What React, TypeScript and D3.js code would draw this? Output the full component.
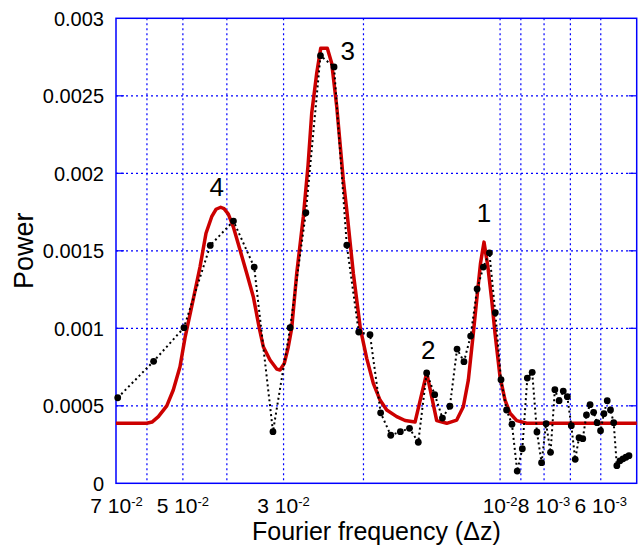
import React from 'react';
import * as d3 from 'd3';

// Observed data: periods (1 / Fourier frequency) and measured power
const periods = [
  14.37, 17.24, 20.11, 22.98, 25.85, 28.72, 31.59, 34.46, 37.33, 40.2,
  43.07, 45.94, 48.81, 51.68, 54.55, 57.42, 60.29, 63.16, 66.03, 68.9,
  71.77, 74.64, 77.51, 80.38, 83.25, 86.12, 88.99, 91.86, 94.73, 97.6,
  100.47, 103.34, 106.21, 109.08, 111.95, 114.82, 117.69, 120.56, 123.43, 126.3,
  129.17, 132.04, 134.91, 137.78, 140.65, 143.52, 146.39, 149.26, 152.13, 155.0,
  157.87, 160.74, 163.61, 166.48, 169.35, 172.22, 175.09, 177.96, 180.83, 183.7,
  186.57, 189.44, 192.31,
];
const power = [
  0.000552, 0.000787, 0.001004, 0.001535, 0.001692, 0.001395, 0.000333, 0.001004, 0.001746, 0.002759,
  0.002686, 0.001537, 0.000976, 0.000959, 0.000455, 0.00031, 0.000333, 0.000355, 0.000265, 0.000712,
  0.000572, 0.000421, 0.000497, 0.000866, 0.000785, 0.00095, 0.001254, 0.001395, 0.001486, 0.001101,
  0.000668, 0.000473, 0.000381, 0.000079, 0.000223, 0.000679, 0.000716, 0.000331, 0.000133, 0.000385,
  0.0002, 0.000604, 0.000533, 0.000595, 0.000559, 0.000372, 0.000155, 0.000294, 0.000288, 0.000441,
  0.000507, 0.000458, 0.000391, 0.000339, 0.000449, 0.000533, 0.000473, 0.000391, 0.000114, 0.000145,
  0.000158, 0.000168, 0.000178,
];

// Fitted model curve (red)
const fitPeriods = [
  14.245, 16.645, 17.1, 17.66, 18.43, 19.05, 19.71, 20.22, 21.09, 21.82,
  22.49, 23.15, 23.66, 24.23, 24.64, 25.19, 25.83, 26.73, 27.65, 28.59,
  29.48, 30.08, 31.12, 32.2, 32.74, 33.46, 34.15, 34.74, 35.64, 36.85,
  37.74, 38.45, 39.44, 40.25, 41.62, 42.56, 43.66, 45.14, 45.93, 47.49,
  49.21, 50.83, 52.56, 54.38, 56.26, 59.19, 61.74, 64.95, 68.91, 72.5,
  76.28, 80.25, 82.98, 85.12, 87.3, 88.82, 90.55, 92.17, 93.96, 95.84,
  97.46, 99.96, 102.54, 105.18, 108.82, 114.48, 200.07,
];
const fitPower = [
  0.000387, 0.000387, 0.000395, 0.00043, 0.000499, 0.000602, 0.000752, 0.00094, 0.00119, 0.001397,
  0.001613, 0.00172, 0.001768, 0.001781, 0.001772, 0.001737, 0.001655, 0.001505, 0.001355, 0.001204,
  0.001, 0.000881, 0.000795, 0.000737, 0.000731, 0.000774, 0.000881, 0.001, 0.001355, 0.00172,
  0.00205, 0.002387, 0.002645, 0.002806, 0.002806, 0.00271, 0.00243, 0.001957, 0.001763, 0.001355,
  0.001, 0.000806, 0.000645, 0.000537, 0.000473, 0.00043, 0.000405, 0.000395, 0.000712, 0.000404,
  0.000387, 0.000408, 0.000494, 0.000666, 0.000968, 0.001183, 0.00142, 0.001556, 0.0014, 0.001183,
  0.000968, 0.000688, 0.000537, 0.000452, 0.000404, 0.000387, 0.000387,
];

// Peak annotations
const peakLabels = ['4', '3', '2', '1'];
const peakFreq = [0.0421, 0.02166, 0.014395, 0.01085];
const peakPower = [0.001854, 0.002731, 0.0008, 0.001686];

// Axes
const yTicks = [0, 0.0005, 0.001, 0.0015, 0.002, 0.0025, 0.003];
const yTickLabels = ['0', '0.0005', '0.001', '0.0015', '0.002', '0.0025', '0.003'];
const xGrid = [0.06, 0.05, 0.04, 0.03, 0.02, 0.01, 0.009, 0.008, 0.007, 0.006];
const xTicks = [0.07, 0.05, 0.03, 0.01, 0.008, 0.006];
const xTickMant = ['7 ', '5 ', '3 ', '', '8 ', '6 '];
const xTickExp = ['-2', '-2', '-2', '-2', '-3', '-3'];

const W = 643;
const H = 549;
const PL = 116, PR = 636.7, PT = 18.3, PB = 483.3;
const FONT = '"Liberation Sans", Arial, Helvetica, sans-serif';
const BLUE = '#0000ff';

export default function App() {
  const x = d3.scaleLog().domain([0.0702, 0.005]).range([PL, PR]);
  const y = d3.scaleLinear().domain([0, 0.003]).range([PB, PT]);

  const pts = periods.map((p, i) => [1 / p, power[i]] as [number, number]);
  const fit = fitPeriods.map((p, i) => [1 / p, fitPower[i]] as [number, number]);
  const line = d3.line<[number, number]>().x(d => x(d[0])).y(d => y(d[1]));

  return (
    <svg width={W} height={H} style={{ position: 'absolute', left: 0, top: 0, background: '#fff' }}
      fontFamily={FONT}>
      <rect x={0} y={0} width={W} height={H} fill="#fff" />
      {/* grid */}
      {yTicks.slice(1, -1).map((t, i) => (
        <line key={'gy' + i} x1={PL} x2={PR} y1={y(t)} y2={y(t)} stroke={BLUE} strokeWidth={1.2}
          strokeDasharray="2,3" />
      ))}
      {xGrid.map((t, i) => (
        <line key={'gx' + i} x1={x(t)} x2={x(t)} y1={PT} y2={PB} stroke={BLUE} strokeWidth={1.2}
          strokeDasharray="2,3" />
      ))}
      {/* y ticks */}
      {yTicks.slice(1, -1).map((t, i) => (
        <g key={'ty' + i}>
          <line x1={PL} x2={PL + 8} y1={y(t)} y2={y(t)} stroke={BLUE} strokeWidth={1.2} />
          <line x1={PR - 8} x2={PR} y1={y(t)} y2={y(t)} stroke={BLUE} strokeWidth={1.2} />
        </g>
      ))}
      {/* border */}
      <rect x={PL} y={PT} width={PR - PL} height={PB - PT} fill="none" stroke={BLUE} strokeWidth={1.5} />

      {/* fitted curve */}
      <path d={line(fit) || ''} fill="none" stroke="#cc0000" strokeWidth={3.5} strokeLinejoin="round" />

      {/* data */}
      <path d={line(pts) || ''} fill="none" stroke="#000" strokeWidth={2} strokeDasharray="2,3" />
      {pts.map((d, i) => (
        <circle key={'p' + i} cx={x(d[0])} cy={y(d[1])} r={3.4} fill="#000" />
      ))}

      {/* peak labels */}
      {peakLabels.map((s, i) => (
        <text key={'pk' + i} x={x(peakFreq[i])} y={y(peakPower[i])} textAnchor="middle" fontSize={26}
          fill="#000">{s}</text>
      ))}

      {/* y tick labels */}
      {yTicks.map((t, i) => (
        <text key={'yl' + i} x={104} y={y(t)} dy="0.36em" textAnchor="end" fontSize={20} fill="#000">
          {yTickLabels[i]}
        </text>
      ))}

      {/* x tick labels */}
      {xTicks.map((t, i) => (
        <text key={'xl' + i} x={x(t)} y={513.3} textAnchor="middle" fontSize={21} fill="#000">
          {xTickMant[i]}10<tspan dy={-7} fontSize={13}>{xTickExp[i]}</tspan>
        </text>
      ))}

      {/* axis titles */}
      <text x={(PL + PR) / 2} y={540} textAnchor="middle" fontSize={25} fill="#000">
        Fourier frequency (Δz)
      </text>
      <text transform={`translate(33.3, ${(PT + PB) / 2}) rotate(-90)`} textAnchor="middle" fontSize={27}
        fill="#000">Power</text>
    </svg>
  );
}
